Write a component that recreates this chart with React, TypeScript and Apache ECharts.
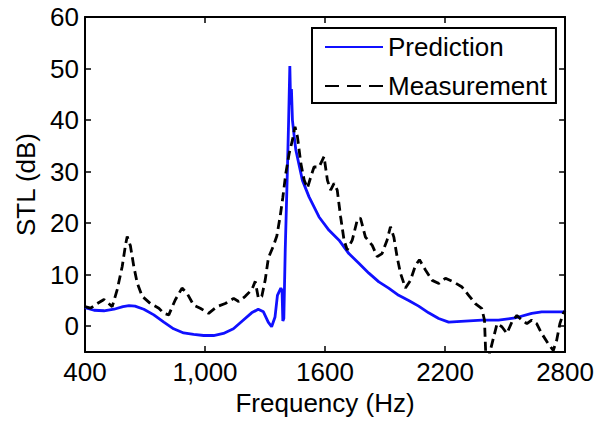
import React, { useEffect, useRef } from "react";
import * as echarts from "echarts";

const xTickLabels = ["400", "1,000", "1600", "2200", "2800"];
const yTickValues = [0, 10, 20, 30, 40, 50, 60];

const predictionFreq = [
  400, 445, 495, 545, 590, 620, 650, 694, 744, 794, 843, 893, 943, 993, 1043, 1092, 1142, 1192, 1233, 1266,
  1292, 1316, 1333, 1350, 1362, 1379, 1385, 1389, 1394, 1401, 1413, 1418, 1424, 1428, 1432, 1437, 1446, 1454,
  1487, 1520, 1570, 1620, 1670, 1719, 1769, 1819, 1869, 1918, 1968, 2018, 2068, 2118, 2168, 2218, 2300, 2384,
  2467, 2550, 2633, 2683, 2800,
];
const predictionSTL = [
  3.6, 3.1, 3.0, 3.3, 3.8, 4.0, 3.9, 3.3, 2.2, 0.8, -0.5, -1.3, -1.6, -1.8, -1.8, -1.4, -0.5, 1.2, 2.6, 3.3,
  2.8, 0.8, -0.1, 1.8, 6.0, 7.4, 7.0, 1.0, 1.5, 14.8, 32, 40, 50.5, 43, 46, 40, 36.8, 34.2,
  28.3, 25.1, 21.2, 18.6, 16.7, 14.1, 12.2, 10.3, 8.6, 7.4, 6.0, 5.0, 3.9, 2.6, 1.5, 0.8, 1.0, 1.2,
  1.2, 1.6, 2.5, 2.8, 2.8,
];

const measurementFreq = [
  400, 428, 461, 495, 536, 561, 586, 603, 611, 627, 644, 661, 686, 727, 769, 794, 819, 851, 885, 910,
  943, 976, 1018, 1060, 1101, 1143, 1168, 1201, 1234, 1251, 1267, 1284, 1301, 1317, 1342, 1359, 1376, 1389,
  1404, 1421, 1437, 1450, 1462, 1479, 1496, 1512, 1529, 1545, 1570, 1595, 1612, 1628, 1645, 1661, 1678, 1695,
  1711, 1736, 1761, 1777, 1802, 1836, 1861, 1885, 1910, 1927, 1944, 1960, 1977, 2002, 2027, 2052, 2072, 2102,
  2136, 2169, 2202, 2243, 2285, 2318, 2351, 2384, 2397, 2404, 2418, 2443, 2460, 2484, 2509, 2534, 2559, 2584,
  2609, 2633, 2658, 2683, 2716, 2741, 2758, 2774, 2791, 2800,
];
const measurementSTL = [
  3.8, 3.5, 4.4, 5.2, 3.8, 7.1, 11.6, 15.9, 17.4, 15.6, 11.6, 8.4, 5.8, 4.4, 3.5, 2.5, 2.2, 5.1, 7.4, 6.4,
  4.1, 3.5, 2.5, 3.8, 4.4, 5.4, 4.8, 5.8, 7.1, 8.7, 5.4, 5.8, 9.0, 13.3, 15.6, 17.5, 21.4, 25,
  29.7, 33.6, 36.1, 38.7, 36.8, 31.6, 28.3, 26.8, 29, 30.9, 30.9, 32.9, 28.3, 26.4, 27.7, 26.4, 21.2, 16.7,
  14.8, 16.7, 20.6, 21, 17.3, 15.7, 13.5, 14.1, 16.7, 19.3, 17.3, 13.5, 10.3, 7.4, 8.9, 11.8, 12.9, 10.9,
  8.9, 8.3, 9.3, 8.6, 7.6, 6.0, 4.4, 3.4, 1.2, -6, -6, -2.1, 0.5, -0.1, -1.4, 0.8, 2.1, 1.2,
  0.5, 1.2, 0.5, -1.4, -3.4, -4.7, -2.7, 0.5, 2.5, 3.0,
];

const FONT = "'Liberation Sans', Arial, Helvetica, sans-serif";

export default function App() {
  const ref = useRef<HTMLDivElement>(null);
  useEffect(() => {
    document.body.style.margin = "0";
    if (!ref.current) return;
    const chart = echarts.init(ref.current, undefined, { renderer: "svg" });
    const zip = (xs: number[], ys: number[]) => xs.map((x, i) => [x, ys[i]]);
    const xLabelMap: Record<number, string> = {};
    [400, 1000, 1600, 2200, 2800].forEach((v, i) => (xLabelMap[v] = xTickLabels[i]));
    const axisLine = { show: true, onZero: false, lineStyle: { color: "#000", width: 2 } };
    const tick = { show: true, inside: true, length: 6, lineStyle: { color: "#000", width: 1.5 } };
    const common = { splitLine: { show: false } };
    chart.setOption({
      animation: false,
      backgroundColor: "#fff",
      textStyle: { fontFamily: FONT },
      grid: { left: 85, right: 30, top: 17, bottom: 69, containLabel: false },
      xAxis: [
        {
          type: "value",
          min: 400,
          max: 2800,
          interval: 600,
          position: "bottom",
          axisLine,
          axisTick: tick,
          ...common,
          axisLabel: {
            color: "#000",
            fontSize: 26,
            fontFamily: FONT,
            margin: 7,
            formatter: (v: number) => xLabelMap[v] ?? String(v),
          },
          name: "Frequency (Hz)",
          nameLocation: "middle",
          nameGap: 30,
          nameTextStyle: { color: "#000", fontSize: 26, fontFamily: FONT },
        },
        {
          type: "value",
          min: 400,
          max: 2800,
          interval: 600,
          position: "top",
          axisLine,
          axisTick: tick,
          ...common,
          axisLabel: { show: false },
        },
      ],
      yAxis: [
        {
          type: "value",
          min: -5,
          max: 60,
          interval: 10,
          position: "left",
          axisLine,
          axisTick: { ...tick, customValues: yTickValues },
          ...common,
          axisLabel: {
            color: "#000",
            fontSize: 26,
            fontFamily: FONT,
            margin: 6,
            customValues: yTickValues,
          },
          name: "STL (dB)",
          nameLocation: "middle",
          nameGap: 44,
          nameTextStyle: { color: "#000", fontSize: 26, fontFamily: FONT },
        },
        {
          type: "value",
          min: -5,
          max: 60,
          interval: 10,
          position: "right",
          axisLine,
          axisTick: { ...tick, customValues: yTickValues },
          ...common,
          axisLabel: { show: false },
        },
      ],
      legend: {
        orient: "vertical",
        left: 312,
        top: 28,
        padding: [6, 9, 4, 12],
        itemGap: 13,
        itemWidth: 58,
        itemHeight: 14,
        borderColor: "#000",
        borderWidth: 2,
        backgroundColor: "#fff",
        itemStyle: { opacity: 0 },
        textStyle: { color: "#000", fontSize: 26, fontFamily: FONT, padding: [0, 0, 0, 0] },
        data: [
          { name: "Prediction" },
          { name: "Measurement", lineStyle: { type: [14, 8] } },
        ],
      },
      series: [
        {
          name: "Prediction",
          type: "line",
          data: zip(predictionFreq, predictionSTL),
          symbol: "none",
          clip: true,
          lineStyle: { color: "#1010ff", width: 2.8 },
          itemStyle: { color: "#1010ff" },
          z: 3,
        },
        {
          name: "Measurement",
          type: "line",
          data: zip(measurementFreq, measurementSTL),
          symbol: "none",
          clip: true,
          lineStyle: { color: "#000", width: 2.8, type: [9, 5] },
          itemStyle: { color: "#000" },
          z: 4,
        },
      ],
    });
    return () => chart.dispose();
  }, []);
  return <div ref={ref} style={{ width: 597, height: 421 }} />;
}
